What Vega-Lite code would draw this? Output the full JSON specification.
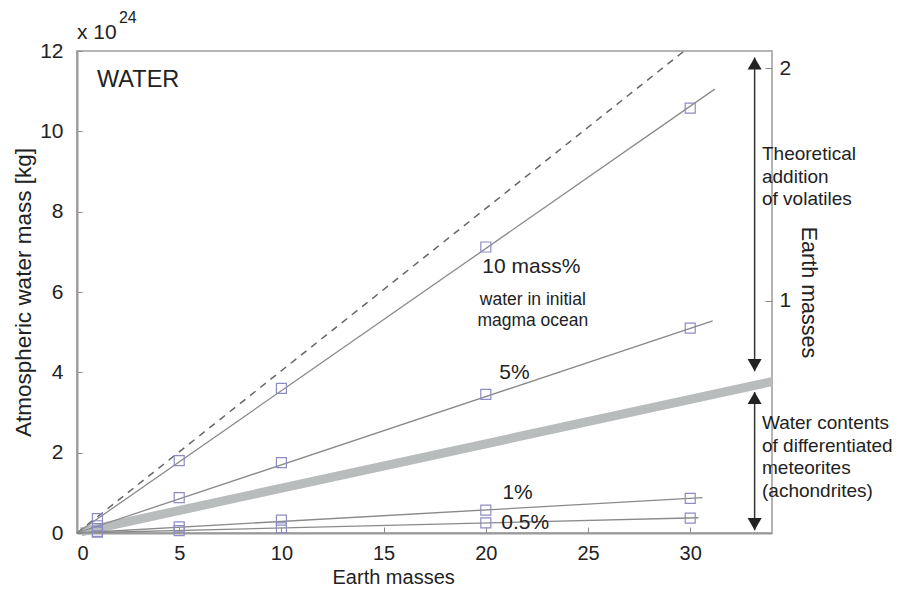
{
  "$schema": "https://vega.github.io/schema/vega-lite/v6.json",
  "width": 695,
  "height": 482,
  "autosize": {"type": "none"},
  "padding": {"left": 77, "top": 51, "right": 132, "bottom": 62},
  "background": "white",
  "config": {
    "view": {"stroke": "#b4b4b4", "strokeWidth": 2},
    "font": "Liberation Sans",
    "axis": {
      "grid": false,
      "labelFont": "Liberation Sans",
      "titleFont": "Liberation Sans",
      "labelColor": "#222",
      "titleColor": "#222",
      "titleFontWeight": "normal",
      "domainColor": "#9a9a9a",
      "domainWidth": 2,
      "tickColor": "#888",
      "tickWidth": 1
    }
  },
  "datasets": {
    "lines": [
      {"series": "10%", "x": 0, "y": 0}, {"series": "10%", "x": 31.2, "y": 11.05},
      {"series": "5%", "x": 0, "y": 0}, {"series": "5%", "x": 31.1, "y": 5.28},
      {"series": "1%", "x": 0, "y": 0}, {"series": "1%", "x": 30.6, "y": 0.88},
      {"series": "0.5%", "x": 0, "y": 0}, {"series": "0.5%", "x": 30.4, "y": 0.38}
    ],
    "dashed": [{"x": 0, "y": 0}, {"x": 29.7, "y": 12}],
    "band": [{"x": 0.2, "y": 0.03}, {"x": 34, "y": 3.77}],
    "markers": [
      {"series": "10%", "x": 1, "y": 0.36}, {"series": "10%", "x": 5, "y": 1.8}, {"series": "10%", "x": 10, "y": 3.6}, {"series": "10%", "x": 20, "y": 7.12}, {"series": "10%", "x": 30, "y": 10.58},
      {"series": "5%", "x": 1, "y": 0.18}, {"series": "5%", "x": 5, "y": 0.88}, {"series": "5%", "x": 10, "y": 1.75}, {"series": "5%", "x": 20, "y": 3.45}, {"series": "5%", "x": 30, "y": 5.1},
      {"series": "1%", "x": 1, "y": 0.04}, {"series": "1%", "x": 5, "y": 0.15}, {"series": "1%", "x": 10, "y": 0.32}, {"series": "1%", "x": 20, "y": 0.57}, {"series": "1%", "x": 30, "y": 0.86},
      {"series": "0.5%", "x": 1, "y": 0.02}, {"series": "0.5%", "x": 5, "y": 0.06}, {"series": "0.5%", "x": 10, "y": 0.13}, {"series": "0.5%", "x": 20, "y": 0.25}, {"series": "0.5%", "x": 30, "y": 0.37}
    ],
    "arrows": [
      {"x": 33.15, "y": 11.84, "y2": 4.03},
      {"x": 33.15, "y": 3.51, "y2": 0.07}
    ],
    "headsUp": [{"x": 33.15, "y": 11.69}, {"x": 33.15, "y": 3.36}],
    "headsDown": [{"x": 33.15, "y": 4.18}, {"x": 33.15, "y": 0.22}],
    "bigLabels": [
      {"x": 19.83, "y": 6.62, "t": "10 mass%"},
      {"x": 20.66, "y": 3.98, "t": "5%"},
      {"x": 20.81, "y": 1.0, "t": "1%"},
      {"x": 20.76, "y": 0.25, "t": "0.5%"}
    ],
    "centerNotes": [
      {"x": 22.3, "y": 5.8, "t": "water in initial"},
      {"x": 22.3, "y": 5.27, "t": "magma ocean"}
    ],
    "sideNotes": [
      {"x": 33.51, "y": 9.43, "t": "Theoretical"},
      {"x": 33.51, "y": 8.86, "t": "addition"},
      {"x": 33.51, "y": 8.31, "t": "of volatiles"},
      {"x": 33.51, "y": 2.74, "t": "Water contents"},
      {"x": 33.51, "y": 2.16, "t": "of differentiated"},
      {"x": 33.51, "y": 1.62, "t": "meteorites"},
      {"x": 33.51, "y": 1.04, "t": "(achondrites)"}
    ],
    "xTitle": [{"x": 15.49, "y": -1.12, "t": "Earth masses"}],
    "title": [{"x": 0.98, "y": 11.27, "t": "WATER"}],
    "unitMain": [{"x": 0, "y": 12.44, "t": "x 10"}],
    "unitSup": [{"x": 2.05, "y": 12.81, "t": "24"}],
    "earth": [{"em": 0}, {"em": 2}]
  },
  "layer": [
    {
      "data": {"name": "band"},
      "mark": {"type": "line", "color": "#b8bcbc", "strokeWidth": 9, "strokeCap": "butt"},
      "encoding": {
        "x": {"field": "x", "type": "quantitative", "scale": {"domain": [0, 34], "nice": false},
          "axis": {"values": [0, 5, 10, 15, 20, 25, 30], "title": null, "labelFontSize": 20,
            "tickSize": -6, "labelPadding": 16}},
        "y": {"field": "y", "type": "quantitative", "scale": {"domain": [0, 12], "nice": false},
          "axis": {"values": [0, 2, 4, 6, 8, 10, 12], "title": "Atmospheric water mass [kg]", "labelFontSize": 21, "titleFontSize": 22.5,
            "tickSize": -5, "labelPadding": 19, "titlePadding": 4}}
      }
    },
    {
      "data": {"name": "dashed"},
      "mark": {"type": "line", "color": "#666", "strokeWidth": 1.5, "strokeDash": [7, 6]},
      "encoding": {
        "x": {"field": "x", "type": "quantitative", "scale": {"domain": [0, 34], "nice": false}},
        "y": {"field": "y", "type": "quantitative", "scale": {"domain": [0, 12], "nice": false}, "axis": null}
      }
    },
    {
      "data": {"name": "lines"},
      "mark": {"type": "line", "color": "#8a8a8a", "strokeWidth": 1.3},
      "encoding": {
        "x": {"field": "x", "type": "quantitative", "scale": {"domain": [0, 34], "nice": false}},
        "y": {"field": "y", "type": "quantitative", "scale": {"domain": [0, 12], "nice": false}, "axis": null},
        "detail": {"field": "series"}
      }
    },
    {
      "data": {"name": "markers"},
      "mark": {"type": "point", "shape": "square", "filled": false, "color": "#8c8cc4", "size": 100, "strokeWidth": 1.2, "opacity": 1},
      "encoding": {
        "x": {"field": "x", "type": "quantitative", "scale": {"domain": [0, 34], "nice": false}},
        "y": {"field": "y", "type": "quantitative", "scale": {"domain": [0, 12], "nice": false}, "axis": null}
      }
    },
    {
      "data": {"name": "arrows"},
      "mark": {"type": "rule", "color": "#333", "strokeWidth": 1.5},
      "encoding": {
        "x": {"field": "x", "type": "quantitative", "scale": {"domain": [0, 34], "nice": false}},
        "y": {"field": "y", "type": "quantitative", "scale": {"domain": [0, 12], "nice": false}, "axis": null},
        "y2": {"field": "y2"}
      }
    },
    {
      "data": {"name": "headsUp"},
      "mark": {"type": "point", "shape": "triangle-up", "filled": true, "color": "#222", "size": 196, "opacity": 1},
      "encoding": {
        "x": {"field": "x", "type": "quantitative", "scale": {"domain": [0, 34], "nice": false}},
        "y": {"field": "y", "type": "quantitative", "scale": {"domain": [0, 12], "nice": false}, "axis": null}
      }
    },
    {
      "data": {"name": "headsDown"},
      "mark": {"type": "point", "shape": "triangle-down", "filled": true, "color": "#222", "size": 196, "opacity": 1},
      "encoding": {
        "x": {"field": "x", "type": "quantitative", "scale": {"domain": [0, 34], "nice": false}},
        "y": {"field": "y", "type": "quantitative", "scale": {"domain": [0, 12], "nice": false}, "axis": null}
      }
    },
    {
      "data": {"name": "bigLabels"},
      "mark": {"type": "text", "font": "Liberation Sans", "fontSize": 21, "align": "left", "baseline": "middle", "color": "#222"},
      "encoding": {
        "x": {"field": "x", "type": "quantitative", "scale": {"domain": [0, 34], "nice": false}},
        "y": {"field": "y", "type": "quantitative", "scale": {"domain": [0, 12], "nice": false}, "axis": null},
        "text": {"field": "t"}
      }
    },
    {
      "data": {"name": "centerNotes"},
      "mark": {"type": "text", "font": "Liberation Sans", "fontSize": 17.5, "align": "center", "baseline": "middle", "color": "#222"},
      "encoding": {
        "x": {"field": "x", "type": "quantitative", "scale": {"domain": [0, 34], "nice": false}},
        "y": {"field": "y", "type": "quantitative", "scale": {"domain": [0, 12], "nice": false}, "axis": null},
        "text": {"field": "t"}
      }
    },
    {
      "data": {"name": "sideNotes"},
      "mark": {"type": "text", "font": "Liberation Sans", "fontSize": 19, "align": "left", "baseline": "middle", "color": "#222"},
      "encoding": {
        "x": {"field": "x", "type": "quantitative", "scale": {"domain": [0, 34], "nice": false}},
        "y": {"field": "y", "type": "quantitative", "scale": {"domain": [0, 12], "nice": false}, "axis": null},
        "text": {"field": "t"}
      }
    },
    {
      "data": {"name": "xTitle"},
      "mark": {"type": "text", "font": "Liberation Sans", "fontSize": 20, "align": "center", "baseline": "middle", "color": "#222"},
      "encoding": {
        "x": {"field": "x", "type": "quantitative", "scale": {"domain": [0, 34], "nice": false}},
        "y": {"field": "y", "type": "quantitative", "scale": {"domain": [0, 12], "nice": false}, "axis": null},
        "text": {"field": "t"}
      }
    },
    {
      "data": {"name": "title"},
      "mark": {"type": "text", "font": "Liberation Sans", "fontSize": 23.5, "align": "left", "baseline": "middle", "color": "#222"},
      "encoding": {
        "x": {"field": "x", "type": "quantitative", "scale": {"domain": [0, 34], "nice": false}},
        "y": {"field": "y", "type": "quantitative", "scale": {"domain": [0, 12], "nice": false}, "axis": null},
        "text": {"field": "t"}
      }
    },
    {
      "data": {"name": "unitMain"},
      "mark": {"type": "text", "font": "Liberation Sans", "fontSize": 21, "align": "left", "baseline": "middle", "color": "#222"},
      "encoding": {
        "x": {"field": "x", "type": "quantitative", "scale": {"domain": [0, 34], "nice": false}},
        "y": {"field": "y", "type": "quantitative", "scale": {"domain": [0, 12], "nice": false}, "axis": null},
        "text": {"field": "t"}
      }
    },
    {
      "data": {"name": "unitSup"},
      "mark": {"type": "text", "font": "Liberation Sans", "fontSize": 16, "align": "left", "baseline": "middle", "color": "#222"},
      "encoding": {
        "x": {"field": "x", "type": "quantitative", "scale": {"domain": [0, 34], "nice": false}},
        "y": {"field": "y", "type": "quantitative", "scale": {"domain": [0, 12], "nice": false}, "axis": null},
        "text": {"field": "t"}
      }
    },
    {
      "data": {"name": "earth"},
      "mark": {"type": "rule", "opacity": 0},
      "encoding": {
        "y": {"field": "em", "type": "quantitative", "scale": {"domain": [0, 2.075], "nice": false},
          "axis": {"orient": "right", "values": [1, 2], "title": "Earth masses", "domain": false, "labelFontSize": 21, "titleFontSize": 21.5,
            "tickSize": -7, "labelPadding": 14, "titlePadding": 6, "tickColor": "#888"}}
      }
    }
  ],
  "resolve": {"scale": {"y": "independent"}}
}
